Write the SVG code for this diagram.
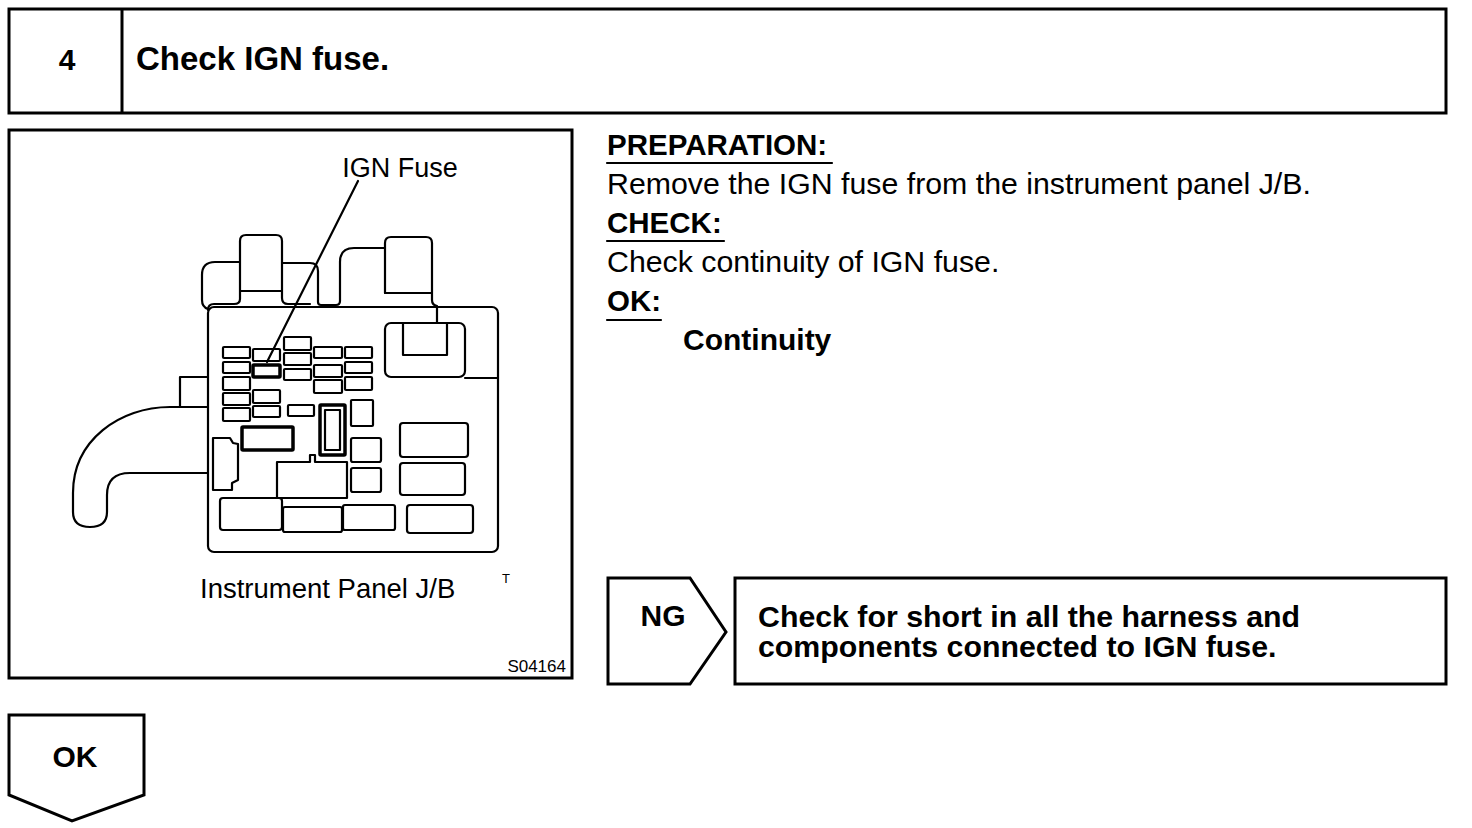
<svg xmlns="http://www.w3.org/2000/svg" width="1472" height="828" viewBox="0 0 1472 828">
<style>
.frame{fill:none;stroke:#000;stroke-width:3}
.ln{fill:none;stroke:#000;stroke-width:2.2;stroke-linejoin:round;stroke-linecap:round}
.fz{fill:#fff;stroke:#000;stroke-width:2.2}
.fzb{fill:#fff;stroke:#000;stroke-width:3.5}
.t{font-family:"Liberation Sans",Arial,sans-serif;fill:#000}
.b{font-weight:bold}
</style>
<rect width="1472" height="828" fill="#fff"/>

<g id="title">
<rect class="frame" x="9" y="9" width="1437" height="104"/>
<line class="frame" x1="122" y1="9" x2="122" y2="113"/>
<text class="t b" x="67" y="70" font-size="30" text-anchor="middle">4</text>
<text class="t b" x="136" y="70" font-size="33">Check IGN fuse.</text>
</g>

<g id="figure">
<rect class="frame" x="9" y="130" width="563" height="548"/>
<text class="t" x="400" y="177" font-size="27" text-anchor="middle">IGN Fuse</text>
<!-- body -->
<rect class="ln" x="208" y="307" width="290" height="245" rx="6"/>
<!-- top connectors -->
<path class="ln" d="M240,262 L215,262 Q202,262 202,275 L202,300 Q202,307 208,309"/>
<path class="ln" d="M240,291 L240,299 Q240,304 234,304 L214,304 Q208,304 208,310"/>
<path class="ln" d="M240,291 L240,241 Q240,235 246,235 L276,235 Q282,235 282,241 L282,298 Q282,304 288,304 L310,304"/>
<line class="ln" x1="240" y1="291" x2="282" y2="291"/>
<path class="ln" d="M282,263 L310,263 Q318,263 318,271 L318,302 Q318,305 321,305 L336,305 Q340,305 340,301 L340,262 Q340,248 354,248 L385,248"/>
<path class="ln" d="M385,293 L385,243 Q385,237 391,237 L426,237 Q432,237 432,243 L432,300 Q432,305 437,306 L437,323"/>
<line class="ln" x1="385" y1="293" x2="432" y2="293"/>
<!-- relay holder -->
<rect class="ln" x="385" y="323" width="80" height="54" rx="6"/>
<path class="ln" d="M403,323 L403,355 L447,355 L447,323"/>
<line class="ln" x1="465" y1="378" x2="498" y2="378"/>
<!-- harness -->
<path class="ln" d="M208,377 L180,377 L180,407"/>
<path class="ln" d="M208,407 L170,407 C120,407 73,440 73,493 L73,512 Q73,527 90,527 Q107,527 107,512 L107,495 Q107,473 130,473 L208,473"/>
<!-- fuses -->
<rect class="fz" x="223" y="347" width="27" height="11" rx="1"/>
<rect class="fz" x="253" y="349" width="27" height="12" rx="1"/>
<rect class="fz" x="284" y="337" width="27" height="13" rx="1"/>
<rect class="fz" x="314" y="347" width="28" height="11" rx="1"/>
<rect class="fz" x="345" y="347" width="27" height="11" rx="1"/>
<rect class="fz" x="223" y="362" width="27" height="11" rx="1"/>
<rect class="fzb" x="253" y="365" width="27" height="12" rx="1"/>
<rect class="fz" x="284" y="353" width="27" height="12" rx="1"/>
<rect class="fz" x="314" y="365" width="28" height="12" rx="1"/>
<rect class="fz" x="345" y="362" width="27" height="11" rx="1"/>
<rect class="fz" x="223" y="377" width="27" height="13" rx="1"/>
<rect class="fz" x="284" y="369" width="27" height="11" rx="1"/>
<rect class="fz" x="314" y="380" width="28" height="13" rx="1"/>
<rect class="fz" x="345" y="377" width="27" height="13" rx="1"/>
<rect class="fz" x="223" y="393" width="27" height="12" rx="1"/>
<rect class="fz" x="253" y="390" width="27" height="13" rx="1"/>
<rect class="fz" x="223" y="408" width="27" height="13" rx="1"/>
<rect class="fz" x="253" y="406" width="27" height="11" rx="1"/>
<rect class="fz" x="288" y="405" width="26" height="11" rx="1"/>
<rect class="fzb" x="320" y="405" width="25" height="50" rx="1"/>
<rect class="ln" x="325" y="410" width="15" height="40"/>
<rect class="fz" x="351" y="400" width="22" height="26" rx="1"/>
<rect class="fzb" x="242" y="427" width="51" height="23" rx="1"/>
<rect class="fz" x="351" y="438" width="30" height="24" rx="2"/>
<rect class="fz" x="400" y="423" width="68" height="34" rx="3"/>
<rect class="fz" x="400" y="463" width="65" height="32" rx="3"/>
<rect class="fz" x="351" y="468" width="30" height="24" rx="2"/>
<path class="ln" d="M277,462 L310,462 L310,455 L315,455 L315,462 L347,462 L347,498 L277,498 Z"/>
<path class="ln" d="M213,438 L230,438 L233,443 L238,444 L238,480 L232,483 L232,490 L213,490 Z"/>
<rect class="fz" x="220" y="498" width="62" height="32" rx="3"/>
<rect class="fz" x="283" y="507" width="59" height="25" rx="2"/>
<rect class="fz" x="343" y="505" width="52" height="25" rx="2"/>
<rect class="fz" x="407" y="505" width="66" height="28" rx="3"/>
<!-- leader -->
<line class="ln" x1="358" y1="181" x2="267" y2="362"/>
<text class="t" x="200" y="598" font-size="27.5">Instrument Panel J/B</text>
<text class="t" x="506" y="583" font-size="13" text-anchor="middle">T</text>
<text class="t" x="566" y="672" font-size="17" text-anchor="end">S04164</text>
</g>

<g id="instructions">
<text class="t b" x="607" y="155" font-size="29.5">PREPARATION:</text>
<line class="ln" x1="607" y1="163" x2="832" y2="163"/>
<text class="t" x="607" y="194" font-size="30.3">Remove the IGN fuse from the instrument panel J/B.</text>
<text class="t b" x="607" y="233" font-size="29.5">CHECK:</text>
<line class="ln" x1="607" y1="241" x2="724" y2="241"/>
<text class="t" x="607" y="272" font-size="30.3">Check continuity of IGN fuse.</text>
<text class="t b" x="607" y="311" font-size="29.5">OK:</text>
<line class="ln" x1="607" y1="320" x2="661" y2="320"/>
<text class="t b" x="683" y="350" font-size="30">Continuity</text>
</g>

<g id="ng-arrow">
<path class="frame" d="M608,578 L690,578 L726,632 L690,684 L608,684 Z"/>
<text class="t b" x="663" y="626" font-size="30" text-anchor="middle">NG</text>
</g>

<g id="ng-result">
<rect class="frame" x="735" y="578" width="711" height="106"/>
<text class="t b" x="758" y="627" font-size="30.3">Check for short in all the harness and</text>
<text class="t b" x="758" y="657" font-size="30.3">components connected to IGN fuse.</text>
</g>

<g id="ok-arrow">
<path class="frame" d="M9,715 L144,715 L144,795 L72,821 L9,795 Z"/>
<text class="t b" x="75" y="767" font-size="30" text-anchor="middle">OK</text>
</g>

<g id="connectors"></g>
</svg>
